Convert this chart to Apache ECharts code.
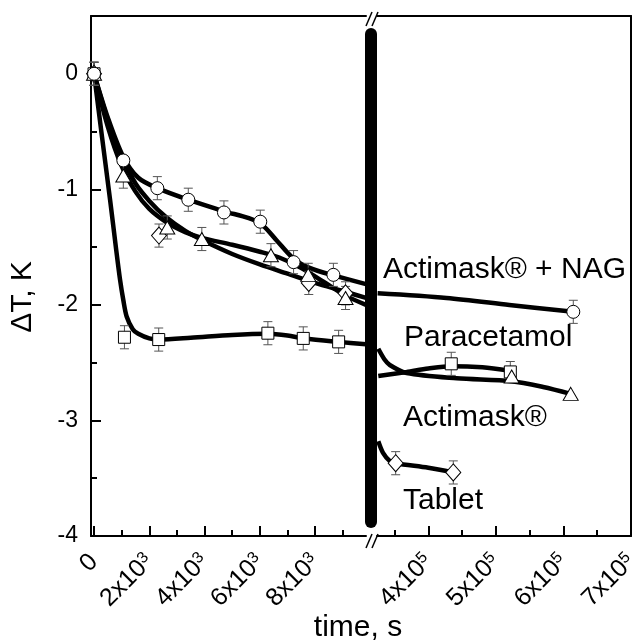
<!DOCTYPE html>
<html>
<head>
<meta charset="utf-8">
<title>ΔT vs time</title>
<script src="https://cdn.jsdelivr.net/npm/echarts/dist/echarts.min.js"></script>
<style>
  html, body { margin: 0; padding: 0; background: #fff; }
  #chart { width: 637px; height: 642px; }
</style>
</head>
<body>
<div id="chart"></div>
<script>
// broken time axis: 0..1e4 s on the left, 3.2e5..7e5 s on the right
const leftRange = [-110, 9840];
const rightRange = [324100, 700000];
const yRange = [-4, 0.5];

const xLeftTicks = [0, 2000, 4000, 6000, 8000];
const xLeftMinor = [1000, 3000, 5000, 7000, 9000];
const xRightTicks = [400000, 500000, 600000, 700000];
const xRightMinor = [350000, 450000, 550000, 650000];
const yTicks = [0, -1, -2, -3, -4];
const yMinor = [-0.5, -1.5, -2.5, -3.5];

// measured points (t in s, dT in K, err in K)
const nagT = [0, 1060, 2290, 3410, 4700, 6015, 7220, 8660];
const nagDT = [0, -0.75, -0.99, -1.09, -1.2, -1.28, -1.63, -1.74];
const nagErr = [0.1, 0, 0.1, 0.1, 0.1, 0.1, 0.1, 0.1];
const nagT2 = [614600];
const nagDT2 = [-2.06];
const nagErr2 = [0.1];

const actT = [0, 1060, 2650, 3900, 6400, 7750, 9100];
const actDT = [0, -0.88, -1.33, -1.43, -1.57, -1.74, -1.94];
const actErr = [0.1, 0.11, 0.1, 0.1, 0.1, 0.1, 0.1];
const actT2 = [523400, 610750];
const actDT2 = [-2.62, -2.77];
const actErr2 = [0, 0];

const parT = [0, 1100, 2340, 6290, 7570, 8850];
const parDT = [0, -2.28, -2.3, -2.245, -2.29, -2.32];
const parErr = [0.1, 0.1, 0.1, 0.1, 0.1, 0.1];
const parT2 = [434000, 521400];
const parDT2 = [-2.51, -2.58];
const parErr2 = [0.1, 0.09];

const tabT = [0, 2350, 7770, 9100];
const tabDT = [0, -1.4, -1.81, -1.9];
const tabErr = [0.1, 0.1, 0.1, 0.1];
const tabT2 = [351750, 437000];
const tabDT2 = [-3.37, -3.45];
const tabErr2 = [0.1, 0.1];

// fitted curves
const nagFit = [[0, 0], [500, -0.38], [1060, -0.72], [1600, -0.9], [2290, -0.99], [3410, -1.09], [4700, -1.19], [5600, -1.25], [6100, -1.31], [6600, -1.44], [7220, -1.6], [7800, -1.68], [8660, -1.745], [9840, -1.82]];
const nagFit2 = [[325000, -1.9], [427000, -1.94], [520000, -2.0], [614600, -2.06]];
const actFit = [[0, 0], [500, -0.46], [1000, -0.8], [1500, -1.02], [2000, -1.17], [2650, -1.29], [3300, -1.37], [3900, -1.42], [5000, -1.48], [6000, -1.54], [6700, -1.59], [7500, -1.68], [8300, -1.8], [9100, -1.92], [9840, -2.0]];
const actFit2 = [[326000, -2.38], [335000, -2.47], [343000, -2.52], [368000, -2.59], [442000, -2.635], [523400, -2.66], [570000, -2.71], [610750, -2.77]];
const parFit = [[0, 0], [290, -0.55], [580, -1.09], [800, -1.52], [940, -1.78], [1060, -1.96], [1180, -2.1], [1400, -2.21], [1600, -2.25], [2000, -2.29], [2340, -2.3], [3500, -2.285], [5000, -2.26], [6300, -2.25], [7000, -2.265], [7600, -2.29], [8850, -2.32], [9840, -2.34]];
const parFit2 = [[326000, -2.615], [368000, -2.58], [400000, -2.55], [434000, -2.53], [480000, -2.54], [521360, -2.57]];
const tabFit = [[0, 0], [500, -0.4], [1000, -0.72], [1500, -0.95], [2000, -1.1], [2600, -1.24], [3300, -1.36], [4000, -1.45], [5000, -1.56], [6000, -1.65], [7000, -1.73], [8000, -1.81], [9000, -1.88], [9840, -1.94]];
const tabFit2 = [[326000, -3.18], [333000, -3.28], [343000, -3.35], [352000, -3.37], [400000, -3.41], [437000, -3.45]];

const FONT = "'Liberation Sans', Arial, sans-serif";

function sciLabel(v) {
  if (v === 0) return '{b|0}';
  const exp = v >= 1e5 ? 5 : 3;
  return '{b|' + Math.round(v / Math.pow(10, exp)) + 'x10}{s|' + exp + '}';
}

const labelRich = {
  b: { fontSize: 25, fontFamily: FONT, color: '#000' },
  s: { fontSize: 16, fontFamily: FONT, color: '#000', verticalAlign: 'top' }
};

function bottomAxis(grid, range, ticks) {
  return {
    type: 'value', gridIndex: grid, position: 'bottom', min: range[0], max: range[1],
    splitLine: { show: false },
    axisLine: { onZero: false, lineStyle: { color: '#000', width: 2 } },
    axisTick: { inside: true, length: 10, customValues: ticks, lineStyle: { color: '#000', width: 2 } },
    axisLabel: { customValues: ticks, rotate: 45, margin: 22, formatter: sciLabel, rich: labelRich }
  };
}
function minorX(grid, range, ticks) {
  return {
    type: 'value', gridIndex: grid, position: 'bottom', min: range[0], max: range[1],
    splitLine: { show: false }, axisLabel: { show: false },
    axisLine: { show: false, onZero: false },
    axisTick: { inside: true, length: 6, customValues: ticks, lineStyle: { color: '#000', width: 2 } }
  };
}
function frameX(grid, range) {
  return {
    type: 'value', gridIndex: grid, position: 'top', min: range[0], max: range[1],
    splitLine: { show: false }, axisLabel: { show: false }, axisTick: { show: false },
    axisLine: { onZero: false, lineStyle: { color: '#000', width: 2 } }
  };
}

function fitLine(data, xi, yi) {
  return {
    type: 'line', xAxisIndex: xi, yAxisIndex: yi, data: data,
    symbol: 'none', smooth: 0.3,
    lineStyle: { color: '#000', width: 4.5 }, z: 2, silent: true
  };
}
function markers(ts, ys, symbol, size, xi, yi) {
  return {
    type: 'scatter', xAxisIndex: xi, yAxisIndex: yi,
    data: ts.map((t, i) => [t, ys[i]]),
    symbol: symbol, symbolSize: size,
    itemStyle: { color: '#fff', borderColor: '#000', borderWidth: 1, opacity: 1 }, z: 5
  };
}
function errorBars(ts, ys, es, xi, yi) {
  return {
    type: 'custom', xAxisIndex: xi, yAxisIndex: yi, z: 3,
    encode: { x: 0, y: 1 },
    data: ts.map((t, i) => [t, ys[i], es[i]]),
    renderItem: (params, api) => {
      const x = api.value(0), y = api.value(1), e = api.value(2);
      if (!e) return null;
      const hi = api.coord([x, y + e]);
      const lo = api.coord([x, y - e]);
      const w = 4.5;
      const st = { stroke: '#555', lineWidth: 1 };
      return {
        type: 'group',
        children: [
          { type: 'line', shape: { x1: hi[0], y1: hi[1], x2: lo[0], y2: lo[1] }, style: st },
          { type: 'line', shape: { x1: hi[0] - w, y1: hi[1], x2: hi[0] + w, y2: hi[1] }, style: st },
          { type: 'line', shape: { x1: lo[0] - w, y1: lo[1], x2: lo[0] + w, y2: lo[1] }, style: st }
        ]
      };
    }
  };
}

function textAt(x, y, text, align, rotation) {
  return {
    type: 'text', x: x, y: y, z: 100, rotation: rotation || 0,
    style: { text: text, font: '30px ' + FONT, fill: '#000', textAlign: align || 'left', textVerticalAlign: 'middle' }
  };
}
function slash(x1, y1, x2, y2) {
  return { type: 'line', z: 100, shape: { x1: x1, y1: y1, x2: x2, y2: y2 }, style: { stroke: '#000', lineWidth: 1.5 } };
}

const chart = echarts.init(document.getElementById('chart'));

const option = {
  backgroundColor: '#fff',
  animation: false,
  grid: [
    { left: 91, top: 16, width: 275, height: 520, outerBoundsMode: 'none' },
    { left: 377, top: 16, width: 254, height: 520, outerBoundsMode: 'none' }
  ],
  xAxis: [
    bottomAxis(0, leftRange, xLeftTicks),
    minorX(0, leftRange, xLeftMinor),
    frameX(0, leftRange),
    bottomAxis(1, rightRange, xRightTicks),
    minorX(1, rightRange, xRightMinor),
    frameX(1, rightRange)
  ],
  yAxis: [
    {
      type: 'value', gridIndex: 0, position: 'left', min: yRange[0], max: yRange[1],
      splitLine: { show: false },
      axisLine: { onZero: false, lineStyle: { color: '#000', width: 2 } },
      axisTick: { inside: true, length: 10, customValues: yTicks, lineStyle: { color: '#000', width: 2 } },
      axisLabel: { customValues: yTicks, margin: 13, fontSize: 23, fontFamily: FONT, color: '#000' }
    },
    {
      type: 'value', gridIndex: 0, position: 'left', min: yRange[0], max: yRange[1],
      splitLine: { show: false }, axisLabel: { show: false },
      axisLine: { show: false, onZero: false },
      axisTick: { inside: true, length: 6, customValues: yMinor, lineStyle: { color: '#000', width: 2 } }
    },
    { type: 'value', gridIndex: 1, position: 'left', min: yRange[0], max: yRange[1], show: false },
    {
      type: 'value', gridIndex: 1, position: 'right', min: yRange[0], max: yRange[1],
      splitLine: { show: false }, axisLabel: { show: false }, axisTick: { show: false },
      axisLine: { onZero: false, lineStyle: { color: '#000', width: 2 } }
    }
  ],
  series: [
    fitLine(nagFit, 0, 0), fitLine(actFit, 0, 0), fitLine(parFit, 0, 0), fitLine(tabFit, 0, 0),
    fitLine(nagFit2, 3, 2), fitLine(actFit2, 3, 2), fitLine(parFit2, 3, 2), fitLine(tabFit2, 3, 2),

    errorBars(nagT, nagDT, nagErr, 0, 0), errorBars(actT, actDT, actErr, 0, 0),
    errorBars(parT, parDT, parErr, 0, 0), errorBars(tabT, tabDT, tabErr, 0, 0),
    errorBars(nagT2, nagDT2, nagErr2, 3, 2), errorBars(actT2, actDT2, actErr2, 3, 2),
    errorBars(parT2, parDT2, parErr2, 3, 2), errorBars(tabT2, tabDT2, tabErr2, 3, 2),

    markers(parT, parDT, 'rect', 12, 0, 0), markers(tabT, tabDT, 'diamond', [15, 17], 0, 0),
    markers(actT, actDT, 'triangle', [15, 13], 0, 0), markers(nagT, nagDT, 'circle', 13, 0, 0),
    markers(parT2, parDT2, 'rect', 12, 3, 2), markers(tabT2, tabDT2, 'diamond', [15, 17], 3, 2),
    markers(actT2, actDT2, 'triangle', [15, 13], 3, 2), markers(nagT2, nagDT2, 'circle', 13, 3, 2)
  ],
  graphic: [
    // axis break
    { type: 'line', z: 100, shape: { x1: 371, y1: 34, x2: 371, y2: 522 }, style: { stroke: '#000', lineWidth: 12, lineCap: 'round' } },
    slash(366, 26, 372, 12), slash(372, 26, 378, 12),
    slash(366, 548, 372, 534), slash(372, 548, 378, 534),
    // curve labels
    textAt(383, 270, 'Actimask® + NAG'),
    textAt(404, 338, 'Paracetamol'),
    textAt(403, 418, 'Actimask®'),
    textAt(403, 501, 'Tablet'),
    // axis names
    textAt(358, 628, 'time, s', 'center'),
    textAt(23, 297, 'ΔT, K', 'center', Math.PI / 2)
  ]
};

chart.setOption(option);
</script>
</body>
</html>
